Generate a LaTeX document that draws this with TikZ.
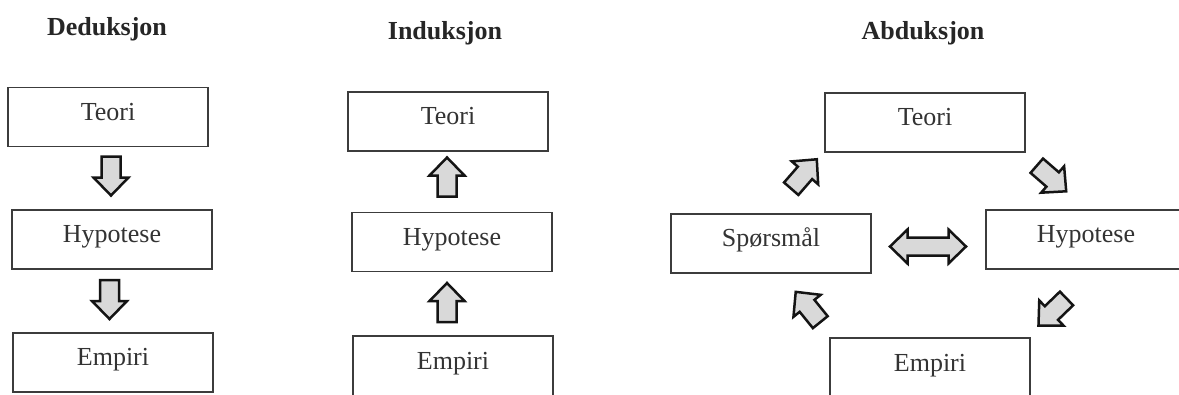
\documentclass[tikz,border=0pt]{standalone}
\usepackage{fontspec}
\setmainfont{Liberation Serif}
\usetikzlibrary{calc}
\definecolor{boxline}{HTML}{3C3C3C}
\definecolor{txt}{HTML}{333333}
\definecolor{arrfill}{HTML}{D9D9D9}
\definecolor{arrline}{HTML}{141414}
\tikzset{
  box/.style={draw=boxline, line width=1.3pt, minimum width=200pt, minimum height=59pt,
    inner sep=0pt, text=txt, font=\fontsize{26}{30}\selectfont, text height=17pt, text depth=11pt},
  title/.style={text=black!85, font=\fontsize{26}{30}\selectfont\bfseries},
  arr/.style={draw=arrline, fill=arrfill, line width=2.5pt},
  barrow/.pic={
    \draw[arr] (-19.5,-9.5) -- (1.5,-9.5) -- (1.5,-17.5) -- (19.5,0) -- (1.5,17.5) -- (1.5,9.5) -- (-19.5,9.5) -- cycle;
  },
  darrow/.pic={
    \draw[arr] (-38,0) -- (-20.5,17) -- (-20.5,9) -- (20.5,9) -- (20.5,17) -- (38,0)
      -- (20.5,-17) -- (20.5,-9) -- (-20.5,-9) -- (-20.5,-17) -- cycle;
  }
}
\begin{document}
\begin{tikzpicture}[x=1pt, y=-1pt]
\clip (0,0) rectangle (1179,394);
\fill[white] (0,0) rectangle (1179,394);

% titles
\node[title] (tded) at (107,29) {Deduksjon};
\node[title] (tind) at (445,33) {Induksjon};
\node[title] (tabd) at (923,33) {Abduksjon};

% Deduksjon
\node[box] (t1) at (108,117) {Teori};
\node[box] (h1) at (112,239.5) {Hypotese};
\node[box] (e1) at (113,362.5) {Empiri};
\pic[rotate=-90] at (111,176) {barrow};
\pic[rotate=-90] at (109.5,299.5) {barrow};

% Induksjon
\node[box] (t2) at (448,121.5) {Teori};
\node[box] (h2) at (452,242) {Hypotese};
\node[box, minimum height=60pt] (e2) at (453,366) {Empiri};
\pic[rotate=90] at (447,177) {barrow};
\pic[rotate=90] at (447,302.5) {barrow};

% Abduksjon
\node[box] (t3) at (925,122.5) {Teori};
\node[box] (s3) at (771,243.5) {Spørsmål};
\node[box] (h3) at (1086,239.5) {Hypotese};
\node[box, minimum height=60pt] (e3) at (930,368) {Empiri};
\pic[rotate=49] at (804,174) {barrow};
\pic[rotate=-41] at (1051.5,178.5) {barrow};
\pic[rotate=-136] at (1052.5,312) {barrow};
\pic[rotate=129] at (808,307) {barrow};
\pic at (928,246.5) {darrow};
\end{tikzpicture}
\end{document}
